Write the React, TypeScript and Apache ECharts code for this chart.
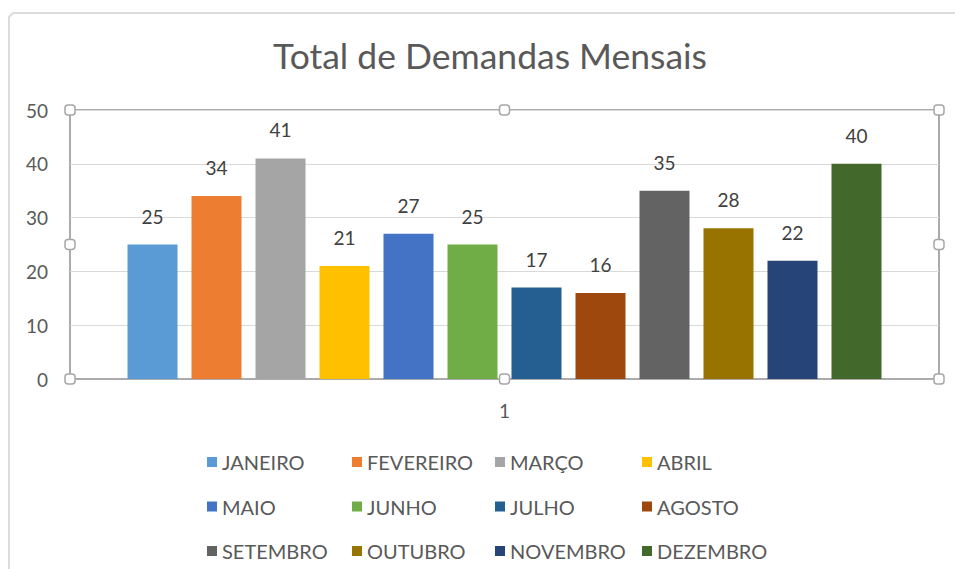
import React, { useEffect, useRef } from "react";
import * as echarts from "echarts";

const titleText = "Total de Demandas Mensais";
const categories = ["1"];
const months = [
  "JANEIRO", "FEVEREIRO", "MARÇO", "ABRIL",
  "MAIO", "JUNHO", "JULHO", "AGOSTO",
  "SETEMBRO", "OUTUBRO", "NOVEMBRO", "DEZEMBRO",
];
const values = [25, 34, 41, 21, 27, 25, 17, 16, 35, 28, 22, 40];
const colors = [
  "#5B9BD5", "#ED7D31", "#A5A5A5", "#FFC000",
  "#4472C4", "#70AD47", "#255E91", "#9E480E",
  "#636363", "#997300", "#264478", "#43682B",
];
const yTicks = { min: 0, max: 50, interval: 10 };

const FONT = "Lato";

export default function App() {
  const ref = useRef<HTMLDivElement>(null);
  useEffect(() => {
    if (!ref.current) return;
    const chart = echarts.init(ref.current, undefined, { renderer: "svg" });
    const gl = 70, gr = 939, gt = 110, gb = 379;
    const gm = (gl + gr) / 2, vm = (gt + gb) / 2;
    const handlePts = [
      [gl, gt], [gm, gt], [gr, gt],
      [gl, vm], [gr, vm],
      [gl, gb], [gm, gb], [gr, gb],
    ];
    const legendCols = [207, 352, 495, 642];
    const legends = legendCols.map((x, c) => ({
      orient: "vertical",
      left: x,
      top: 452,
      padding: 0,
      itemWidth: 10,
      itemHeight: 10,
      itemGap: 24.5,
      icon: "rect",
      selectedMode: false,
      data: [months[c], months[c + 4], months[c + 8]],
      textStyle: { fontFamily: FONT, fontSize: 20, color: "#595959", lineHeight: 20 },
    }));
    chart.setOption({
      animation: false,
      backgroundColor: "#ffffff",
      title: {
        text: titleText,
        left: 268,
        top: 32,
        textStyle: { fontFamily: FONT, fontSize: 35.5, fontWeight: "normal", color: "#595959" },
      },
      legend: legends,
      grid: {
        left: gl, right: 955 - gr, top: gt, bottom: 569 - gb,
        show: true, borderColor: "#ababab", borderWidth: 2, containLabel: false,
      },
      xAxis: {
        type: "category",
        data: categories,
        axisLine: { show: true, lineStyle: { color: "#ababab", width: 2 } },
        axisTick: { show: false },
        axisLabel: { fontFamily: FONT, fontSize: 19, color: "#595959", margin: 22 },
      },
      yAxis: {
        type: "value",
        min: yTicks.min,
        max: yTicks.max,
        interval: yTicks.interval,
        axisLine: { show: false },
        axisTick: { show: false },
        splitLine: { lineStyle: { color: "#d9d9d9", width: 1 } },
        axisLabel: { fontFamily: FONT, fontSize: 19, color: "#595959", margin: 22 },
      },
      series: months.map((m, i) => ({
        type: "bar",
        name: m,
        data: [values[i]],
        barWidth: 50,
        barGap: "28%",
        itemStyle: { color: colors[i] },
        label: {
          show: true,
          position: "top",
          distance: 19,
          fontFamily: FONT,
          fontSize: 19,
          color: "#404040",
        },
      })),
      graphic: [
        {
          type: "polyline",
          shape: { points: [[955, 13], [13, 13], [9, 17], [9, 569]] },
          style: { stroke: "#dcdcdc", lineWidth: 2, fill: "none" },
          silent: true,
        },
        ...handlePts.map(([x, y]) => ({
          type: "rect",
          shape: { x: x - 5, y: y - 5, width: 10, height: 10, r: 3 },
          style: { fill: "#ffffff", stroke: "#a6a6a6", lineWidth: 1.5 },
          z: 100,
          silent: true,
        })),
      ],
    });
    return () => chart.dispose();
  }, []);
  return <div ref={ref} style={{ width: 955, height: 569, position: "absolute", left: 0, top: 0 }} />;
}
